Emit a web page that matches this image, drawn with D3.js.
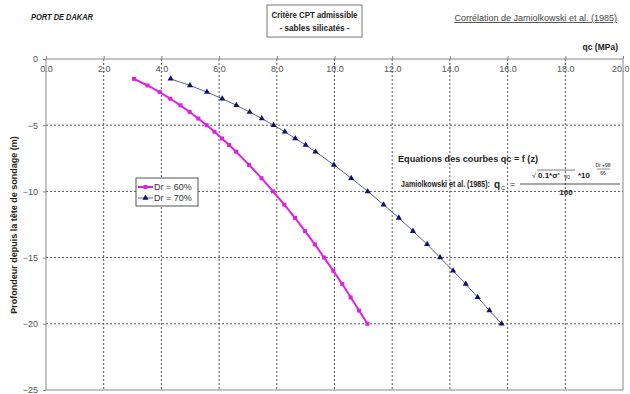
<!DOCTYPE html>
<html>
<head>
<meta charset="utf-8">
<script src="https://cdn.jsdelivr.net/npm/d3@7"></script>
<style>
  body { margin: 0; background: #fff; }
  svg { font-family: "Liberation Sans", Arial, sans-serif; }
</style>
</head>
<body>
<div id="chart"></div>
<script>
// depths (m) and qc (MPa)
const depths = [-1.5, -2, -2.5, -3, -3.5, -4, -4.5, -5, -5.5, -6, -6.5, -7,
  -8, -9, -10, -11, -12, -13, -14, -15, -16, -17, -18, -19, -20];
const qcDr60 = [3.05, 3.52, 3.94, 4.31, 4.66, 4.98, 5.28, 5.57, 5.84, 6.10, 6.35, 6.59,
  7.04, 7.47, 7.87, 8.26, 8.63, 8.98, 9.32, 9.64, 9.96, 10.27, 10.56, 10.85, 11.14];
const qcDr70 = [4.32, 4.99, 5.58, 6.11, 6.60, 7.06, 7.48, 7.89, 8.28, 8.64, 9.00, 9.34,
  9.98, 10.58, 11.15, 11.70, 12.23, 12.72, 13.21, 13.66, 14.11, 14.55, 14.96, 15.37, 15.79];
const xTicks = [0, 2, 4, 6, 8, 10, 12, 14, 16, 18, 20];
const yTicks = [0, -5, -10, -15, -20, -25];
const seriesNames = ["Dr = 60%", "Dr = 70%"];

const width = 630, height = 394;
const margins = {top: 59, right: 7, bottom: 4, left: 46};

const svg = d3.select("#chart")
  .append("svg")
    .attr("width", width)
    .attr("height", height);

const xScale = d3.scaleLinear()
  .domain([0, 20])
  .range([margins.left, width - margins.right]);

const yScale = d3.scaleLinear()
  .domain([0, -25])
  .range([margins.top, height - margins.bottom]);

/* grid lines (dotted) */
svg.append("g")
  .selectAll("line")
  .data(yTicks.filter(d => d !== 0 && d !== -25))
  .join("line")
    .attr("x1", xScale(0)).attr("x2", xScale(20))
    .attr("y1", d => yScale(d)).attr("y2", d => yScale(d))
    .style("stroke", "#555")
    .style("stroke-dasharray", "2,2");

svg.append("g")
  .selectAll("line")
  .data(xTicks.filter(d => d !== 0 && d !== 20))
  .join("line")
    .attr("x1", d => xScale(d)).attr("x2", d => xScale(d))
    .attr("y1", yScale(0)).attr("y2", yScale(-25))
    .style("stroke", "#555")
    .style("stroke-dasharray", "2,2");

/* frame */
svg.append("rect")
  .attr("x", xScale(0)).attr("y", yScale(0))
  .attr("width", xScale(20) - xScale(0))
  .attr("height", yScale(-25) - yScale(0))
  .style("fill", "none")
  .style("stroke", "#888");

/* x axis: labels just below the top edge */
const xAxis = d3.axisBottom(xScale)
  .tickValues(xTicks)
  .tickSize(0)
  .tickPadding(7)
  .tickFormat(d3.format(".1f"));
const xGroup = svg.append("g")
  .attr("transform", `translate(0,${yScale(0)})`)
  .call(xAxis);
xGroup.select(".domain").remove();
xGroup.selectAll("text")
  .style("font-size", "9px")
  .style("fill", "#555");
// last label sits against the right edge
xGroup.selectAll("text").filter(d => d === 20).attr("text-anchor", "end").attr("x", 6);

/* small ticks above top edge */
svg.append("g")
  .attr("transform", `translate(0,${yScale(0)})`)
  .call(d3.axisTop(xScale).tickValues(xTicks).tickSize(3).tickFormat(""))
  .call(g => g.select(".domain").remove())
  .selectAll("line").style("stroke", "#888");

const yAxis = d3.axisLeft(yScale)
  .tickValues(yTicks)
  .tickSize(3)
  .tickPadding(5);
const yGroup = svg.append("g")
  .attr("transform", `translate(${xScale(0)},0)`)
  .call(yAxis);
yGroup.select(".domain").remove();
yGroup.selectAll("line").style("stroke", "#888");
yGroup.selectAll("text")
  .style("font-size", "9px")
  .style("fill", "#555");

/* curves */
const pts60 = depths.map((z, i) => ({z: z, qc: qcDr60[i]}));
const pts70 = depths.map((z, i) => ({z: z, qc: qcDr70[i]}));

const line = d3.line()
  .x(d => xScale(d.qc))
  .y(d => yScale(d.z));

svg.append("path")
  .attr("d", line(pts70))
  .style("fill", "none")
  .style("stroke", "#5a5f98")
  .style("stroke-width", 1);

svg.append("path")
  .attr("d", line(pts60))
  .style("fill", "none")
  .style("stroke", "#e020e0")
  .style("stroke-width", 2);

svg.append("g")
  .selectAll("rect")
  .data(pts60)
  .join("rect")
    .attr("x", d => xScale(d.qc) - 2)
    .attr("y", d => yScale(d.z) - 2)
    .attr("width", 4).attr("height", 4)
    .style("fill", "#e020e0");

const tri = d3.symbol().type(d3.symbolTriangle).size(16);
svg.append("g")
  .selectAll("path")
  .data(pts70)
  .join("path")
    .attr("d", tri)
    .attr("transform", d => `translate(${xScale(d.qc)},${yScale(d.z)})`)
    .style("fill", "#101070");

/* legend */
const legend = svg.append("g").attr("transform", "translate(136,178)");
legend.append("rect")
  .attr("width", 62).attr("height", 28)
  .style("fill", "#fff")
  .style("stroke", "#555");
const legColors = ["#e020e0", "#5a5f98"];
seriesNames.forEach((name, i) => {
  const yy = 9 + i * 11;
  legend.append("line")
    .attr("x1", 2).attr("x2", 17).attr("y1", yy).attr("y2", yy)
    .style("stroke", legColors[i])
    .style("stroke-width", i === 0 ? 2 : 1);
  if (i === 0) {
    legend.append("rect").attr("x", 7.5).attr("y", yy - 2).attr("width", 4).attr("height", 4)
      .style("fill", "#e020e0");
  } else {
    legend.append("path").attr("d", tri).attr("transform", `translate(9.5,${yy})`)
      .style("fill", "#101070");
  }
  legend.append("text")
    .attr("x", 18).attr("y", yy).attr("dy", "0.35em")
    .style("font-size", "9px").style("fill", "#333")
    .text(name);
});

/* titles */
svg.append("text")
  .attr("x", 31).attr("y", 20)
  .attr("textLength", 62).attr("lengthAdjust", "spacingAndGlyphs")
  .style("font-size", "8.5px").style("font-weight", "bold").style("font-style", "italic")
  .style("fill", "#222")
  .text("PORT DE DAKAR");

svg.append("rect")
  .attr("x", 267).attr("y", 5).attr("width", 95).attr("height", 32)
  .style("fill", "#fff").style("stroke", "#777");
svg.append("text")
  .attr("x", 314.5).attr("y", 18).attr("text-anchor", "middle")
  .attr("textLength", 86).attr("lengthAdjust", "spacingAndGlyphs")
  .style("font-size", "9px").style("font-weight", "bold").style("fill", "#222")
  .text("Critère CPT admissible");
svg.append("text")
  .attr("x", 314.5).attr("y", 31).attr("text-anchor", "middle")
  .attr("textLength", 70).attr("lengthAdjust", "spacingAndGlyphs")
  .style("font-size", "9px").style("font-weight", "bold").style("fill", "#222")
  .text("- sables silicatés -");

svg.append("text")
  .attr("x", 617).attr("y", 21).attr("text-anchor", "end")
  .style("font-size", "9px").style("fill", "#444")
  .style("text-decoration", "underline")
  .text("Corrélation de Jamiolkowski et al. (1985)");

svg.append("text")
  .attr("x", 618).attr("y", 50).attr("text-anchor", "end")
  .style("font-size", "8.5px").style("font-weight", "bold").style("fill", "#222")
  .text("qc (MPa)");

svg.append("text")
  .attr("transform", `translate(17,225) rotate(-90)`)
  .attr("text-anchor", "middle")
  .style("font-size", "9px").style("font-weight", "bold").style("fill", "#222")
  .text("Profondeur depuis la tête de sondage (m)");

/* equation block */
const eq = svg.append("g").style("fill", "#222").style("font-weight", "bold");
eq.append("text")
  .attr("x", 398).attr("y", 162)
  .attr("textLength", 140).attr("lengthAdjust", "spacingAndGlyphs")
  .style("font-size", "9px")
  .text("Equations des courbes qc = f (z)");
eq.append("text")
  .attr("transform", "translate(401,187) scale(1,1.25)")
  .style("font-size", "7.1px")
  .text("Jamiolkowski et al. (1985):");
eq.append("text")
  .attr("x", 494).attr("y", 188)
  .style("font-size", "10px")
  .text("q");
eq.append("text")
  .attr("x", 501).attr("y", 190)
  .style("font-size", "5.5px").style("font-weight", "normal")
  .text("C");
eq.append("text")
  .attr("x", 510).attr("y", 187)
  .style("font-size", "9px").style("font-weight", "normal")
  .text("=");
eq.append("line")
  .attr("x1", 520).attr("x2", 620).attr("y1", 184).attr("y2", 184)
  .style("stroke", "#222").style("stroke-width", 0.8);
eq.append("text")
  .attr("x", 532).attr("y", 178)
  .style("font-size", "7px").style("font-weight", "normal")
  .text("√");
eq.append("line")
  .attr("x1", 537).attr("x2", 575).attr("y1", 170).attr("y2", 170)
  .style("stroke", "#222").style("stroke-width", 0.6);
eq.append("text")
  .attr("x", 538).attr("y", 178)
  .style("font-size", "8px")
  .text("0.1*σ'");
eq.append("text")
  .attr("x", 564).attr("y", 179)
  .style("font-size", "5px").style("font-weight", "normal")
  .text("V0");
eq.append("text")
  .attr("x", 578).attr("y", 178)
  .style("font-size", "8px")
  .text("*10");
eq.append("text")
  .attr("x", 603).attr("y", 167).attr("text-anchor", "middle")
  .style("font-size", "5px").style("font-weight", "normal")
  .text("Dr +98");
eq.append("line")
  .attr("x1", 597).attr("x2", 610).attr("y1", 169).attr("y2", 169)
  .style("stroke", "#222").style("stroke-width", 0.5);
eq.append("text")
  .attr("x", 603).attr("y", 175).attr("text-anchor", "middle")
  .style("font-size", "5px").style("font-weight", "normal")
  .text("66");
eq.append("text")
  .attr("x", 566).attr("y", 195).attr("text-anchor", "middle")
  .style("font-size", "8px")
  .text("100");
</script>
</body>
</html>
